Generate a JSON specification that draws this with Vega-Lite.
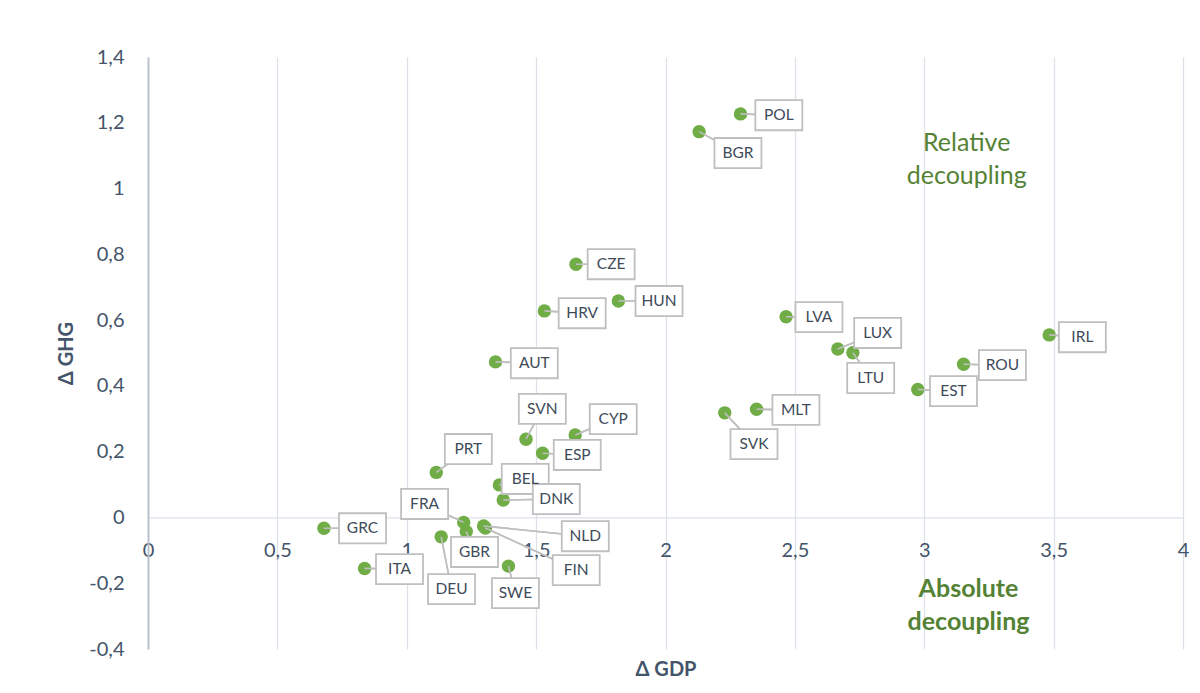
{
  "$schema": "https://vega.github.io/schema/vega-lite/v6.json",
  "width": 1035,
  "height": 592,
  "autosize": "none",
  "padding": {"left": 148, "top": 57, "right": 17, "bottom": 44},
  "background": "white",
  "config": {
    "locale": {"number": {"decimal": ",", "thousands": ".", "grouping": [3], "currency": ["", " €"], "minus": "-"}},
    "view": {"stroke": null},
    "font": "Lato",
    "axis": {"labelFont": "Lato", "titleFont": "Lato", "labelColor": "#44546a", "titleColor": "#44546a", "labelFontSize": 20, "titleFontSize": 20, "titleFontWeight": "bold"}
  },
  "datasets": {
    "pts": [
      {"code": "POL", "gdp": 2.290, "ghg": 1.227, "lx": 2.438, "ly": 1.223},
      {"code": "BGR", "gdp": 2.130, "ghg": 1.173, "lx": 2.280, "ly": 1.108},
      {"code": "CZE", "gdp": 1.654, "ghg": 0.770, "lx": 1.790, "ly": 0.770},
      {"code": "HUN", "gdp": 1.818, "ghg": 0.658, "lx": 1.975, "ly": 0.658},
      {"code": "HRV", "gdp": 1.532, "ghg": 0.628, "lx": 1.678, "ly": 0.621},
      {"code": "AUT", "gdp": 1.343, "ghg": 0.473, "lx": 1.493, "ly": 0.469},
      {"code": "SVN", "gdp": 1.461, "ghg": 0.238, "lx": 1.524, "ly": 0.330},
      {"code": "CYP", "gdp": 1.651, "ghg": 0.251, "lx": 1.798, "ly": 0.299},
      {"code": "ESP", "gdp": 1.525, "ghg": 0.195, "lx": 1.659, "ly": 0.190},
      {"code": "PRT", "gdp": 1.114, "ghg": 0.137, "lx": 1.238, "ly": 0.208},
      {"code": "BEL", "gdp": 1.358, "ghg": 0.099, "lx": 1.458, "ly": 0.117},
      {"code": "DNK", "gdp": 1.373, "ghg": 0.053, "lx": 1.578, "ly": 0.056},
      {"code": "FRA", "gdp": 1.220, "ghg": -0.015, "lx": 1.069, "ly": 0.041},
      {"code": "GBR", "gdp": 1.230, "ghg": -0.043, "lx": 1.262, "ly": -0.105},
      {"code": "NLD", "gdp": 1.297, "ghg": -0.026, "lx": 1.690, "ly": -0.057},
      {"code": "FIN", "gdp": 1.304, "ghg": -0.032, "lx": 1.655, "ly": -0.160},
      {"code": "DEU", "gdp": 1.133, "ghg": -0.059, "lx": 1.173, "ly": -0.218},
      {"code": "GRC", "gdp": 0.680, "ghg": -0.033, "lx": 0.829, "ly": -0.033},
      {"code": "ITA", "gdp": 0.837, "ghg": -0.155, "lx": 0.972, "ly": -0.157},
      {"code": "SWE", "gdp": 1.393, "ghg": -0.148, "lx": 1.420, "ly": -0.230},
      {"code": "LVA", "gdp": 2.466, "ghg": 0.610, "lx": 2.593, "ly": 0.609},
      {"code": "LUX", "gdp": 2.666, "ghg": 0.512, "lx": 2.820, "ly": 0.561},
      {"code": "LTU", "gdp": 2.724, "ghg": 0.501, "lx": 2.793, "ly": 0.424},
      {"code": "IRL", "gdp": 3.483, "ghg": 0.555, "lx": 3.611, "ly": 0.548},
      {"code": "ROU", "gdp": 3.152, "ghg": 0.466, "lx": 3.302, "ly": 0.463},
      {"code": "EST", "gdp": 2.975, "ghg": 0.389, "lx": 3.113, "ly": 0.384},
      {"code": "MLT", "gdp": 2.352, "ghg": 0.329, "lx": 2.504, "ly": 0.327},
      {"code": "SVK", "gdp": 2.229, "ghg": 0.318, "lx": 2.342, "ly": 0.223}
    ]
  },
  "layer": [
    {
      "data": {"name": "pts"},
      "mark": {"type": "rule", "color": "#bfbfbf", "strokeWidth": 1.6},
      "encoding": {
        "x": {"field": "gdp", "type": "quantitative", "scale": {"domain": [0, 4], "nice": false, "zero": false},
          "axis": {"orient": "bottom", "grid": true, "gridColor": "#dde1e8", "gridWidth": 1.3, "values": [0, 0.5, 1, 1.5, 2, 2.5, 3, 3.5, 4], "labels": false, "ticks": false, "domain": false, "title": "Δ GDP", "titlePadding": 10}},
        "y": {"field": "ghg", "type": "quantitative", "scale": {"domain": [-0.4, 1.4], "nice": false, "zero": false},
          "axis": {"values": [-0.4, -0.2, 0, 0.2, 0.4, 0.6, 0.8, 1, 1.2, 1.4], "format": ".1~f", "grid": false, "ticks": false, "tickSize": 0, "labelPadding": 24, "labelFlush": false, "domainColor": "#b8bfcc", "domainWidth": 1.8, "title": "Δ GHG", "titlePadding": 12}},
        "x2": {"field": "lx"},
        "y2": {"field": "ly"}
      }
    },
    {
      "data": {"name": "pts"},
      "mark": {"type": "circle", "color": "#70ad47", "opacity": 1, "size": 180},
      "encoding": {
        "x": {"field": "gdp", "type": "quantitative",
          "axis": {"orient": "bottom", "offset": {"expr": "scale('y', 0) - height"}, "grid": false, "values": [0, 0.5, 1, 1.5, 2, 2.5, 3, 3.5, 4], "format": ".1~f", "ticks": false, "tickSize": 0, "labelPadding": 23, "labelFlush": false, "domain": true, "domainColor": "#dde1e8", "domainWidth": 1.3, "title": null}},
        "y": {"field": "ghg", "type": "quantitative"}
      }
    },
    {
      "data": {"name": "pts"},
      "mark": {"type": "rule", "color": "#bfbfbf", "strokeWidth": 1.6},
      "encoding": {
        "x": {"field": "gdp", "type": "quantitative", "axis": null},
        "y": {"field": "ghg", "type": "quantitative"},
        "x2": {"field": "lx"},
        "y2": {"field": "ly"}
      }
    },
    {
      "data": {"name": "pts"},
      "mark": {"type": "point", "shape": "M-1,-0.64L1,-0.64L1,0.64L-1,0.64Z", "size": 2209, "filled": true, "fill": "white", "fillOpacity": 1, "stroke": "#bfbfbf", "strokeWidth": 1.8, "opacity": 1},
      "encoding": {
        "x": {"field": "lx", "type": "quantitative", "axis": null},
        "y": {"field": "ly", "type": "quantitative"}
      }
    },
    {
      "data": {"name": "pts"},
      "mark": {"type": "text", "font": "Lato", "fontSize": 15.5, "color": "#404b5a", "align": "center", "baseline": "middle"},
      "encoding": {
        "x": {"field": "lx", "type": "quantitative", "axis": null},
        "y": {"field": "ly", "type": "quantitative"},
        "text": {"field": "code"}
      }
    },
    {
      "data": {"values": [{"note": "Relative\ndecoupling", "nx": 3.164, "ny": 1.140}]},
      "mark": {"type": "text", "font": "Lato", "fontSize": 25, "color": "#548235", "align": "center", "baseline": "middle", "lineBreak": "\n", "lineHeight": 33},
      "encoding": {
        "x": {"field": "nx", "type": "quantitative", "axis": null},
        "y": {"field": "ny", "type": "quantitative"},
        "text": {"field": "note"}
      }
    },
    {
      "data": {"values": [{"note": "Absolute\ndecoupling", "nx": 3.171, "ny": -0.217}]},
      "mark": {"type": "text", "font": "Lato", "fontSize": 25, "fontWeight": "bold", "color": "#548235", "align": "center", "baseline": "middle", "lineBreak": "\n", "lineHeight": 33},
      "encoding": {
        "x": {"field": "nx", "type": "quantitative", "axis": null},
        "y": {"field": "ny", "type": "quantitative"},
        "text": {"field": "note"}
      }
    }
  ],
  "resolve": {"axis": {"x": "independent"}}
}
